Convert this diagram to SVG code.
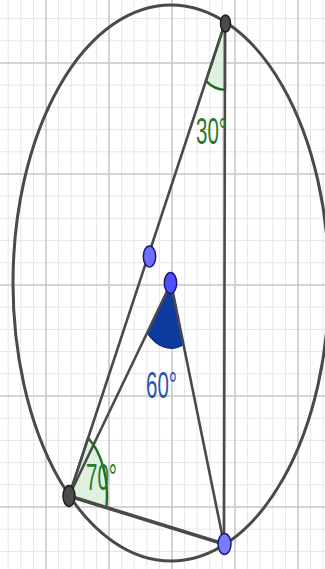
<svg xmlns="http://www.w3.org/2000/svg" width="325" height="569" viewBox="0 0 325 569">
<style>
.minor{stroke:#e6e6e6;stroke-width:1;fill:none}
.major{stroke:#c8c8c8;stroke-width:1.6;fill:none}
.seg{stroke:#4a4a4a;stroke-width:2.6;fill:none;stroke-linecap:round}
.circ{stroke:#4a4a4a;stroke-width:3;fill:none}
.ang-g{fill:#d9edd9;fill-opacity:0.8;stroke:#1f6e1f;stroke-width:2.4;stroke-linejoin:round}
.ang-b{fill:#0d3b9e;stroke:#0a2f85;stroke-width:1.5}
.pt-dark{fill:#4a4a4a;stroke:#1e1e1e;stroke-width:1.5}
.pt-blue{stroke:#1a1a70;stroke-width:1.5}
.lbl{font-family:"Liberation Sans",Arial,sans-serif;font-size:20.5px}
</style>
<rect width="325" height="569" fill="#ffffff"/>
<g id="grid">
<path class="minor" d="M8.2 0V569M20.8 0V569M33.4 0V569M58.6 0V569M71.2 0V569M83.8 0V569M96.4 0V569M121.6 0V569M134.2 0V569M146.8 0V569M159.4 0V569M184.6 0V569M197.2 0V569M209.8 0V569M222.4 0V569M247.6 0V569M260.2 0V569M272.8 0V569M285.4 0V569M310.6 0V569M323.2 0V569"/>
<path class="minor" d="M0 18.6H325M0 40.8H325M0 85.2H325M0 107.4H325M0 129.6H325M0 151.8H325M0 196.2H325M0 218.4H325M0 240.6H325M0 262.8H325M0 307.2H325M0 329.4H325M0 351.6H325M0 373.8H325M0 418.2H325M0 440.4H325M0 462.6H325M0 484.8H325M0 529.2H325M0 551.4H325"/>
<path class="major" d="M46 0V569M109 0V569M172 0V569M235 0V569M298 0V569M0 63H325M0 174H325M0 285H325M0 396H325M0 507H325"/>
</g>
<g id="circle">
<ellipse class="circ" cx="171" cy="283" rx="158" ry="278"/>
</g>
<g id="angles">
<path id="angleA" class="ang-g" d="M225 23L205.9 80.9A38 66.9 0 0 0 225 89.9Z"/>
<path id="angleB" class="ang-g" d="M69 496L88.1 438.1A38 66.9 0 0 1 106.4 507.6Z"/>
<path id="angleO" class="ang-b" d="M171 283L147.2 332.8A37 65.1 0 0 0 183.5 344.3Z"/>
</g>
<g id="connectors">
<line class="seg" x1="225" y1="23" x2="69" y2="496"/>
<line class="seg" x1="225" y1="23" x2="224" y2="544"/>
<line class="seg" x1="69" y1="496" x2="224" y2="544" style="stroke-width:3.6"/>
<line class="seg" x1="171" y1="283" x2="69" y2="496"/>
<line class="seg" x1="171" y1="283" x2="224" y2="544"/>
</g>
<g id="pointA"><ellipse class="pt-dark" cx="225.5" cy="23.5" rx="5" ry="8.5"/></g>
<g id="pointB"><ellipse class="pt-dark" cx="69" cy="496" rx="6" ry="10.5"/></g>
<g id="pointC"><ellipse class="pt-blue" fill="#7b7bff" cx="224.5" cy="544" rx="6.5" ry="10.5"/></g>
<g id="pointM"><ellipse class="pt-blue" fill="#6e6eff" cx="149.5" cy="256.5" rx="6.2" ry="10.5"/></g>
<g id="pointO"><ellipse class="pt-blue" fill="#4f4fff" cx="170.5" cy="283" rx="6.2" ry="10.5"/></g>
<g id="labels">
<text class="lbl" fill="#2a7a2a" transform="translate(196,144) scale(1,1.76)">30°</text>
<text class="lbl" fill="#2b55b5" transform="translate(146,398) scale(1,1.76)">60°</text>
<text class="lbl" fill="#2a7a2a" transform="translate(86,490) scale(1,1.76)">70°</text>
</g>
</svg>
